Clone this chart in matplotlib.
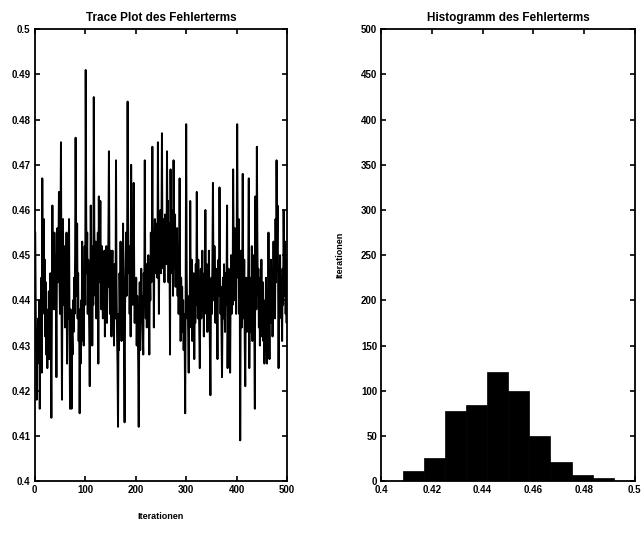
import numpy as np, matplotlib
matplotlib.use("Agg")
import matplotlib.pyplot as plt

plt.rcParams['font.family'] = ['Liberation Sans', 'DejaVu Sans']

# trace of the error term, in units of 1/1000
trace_milli = [
    455, 438, 430, 418, 433, 426, 436, 429, 440, 416, 434, 428, 445, 424, 467, 440, 452, 458, 437, 449,
    432, 444, 428, 438, 425, 436, 430, 442, 427, 435, 446, 431, 414, 440, 461, 443, 452, 438, 455, 447,
    450, 441, 423, 449, 456, 444, 451, 464, 446, 437, 453, 475, 441, 418, 447, 458, 439, 452, 445, 434,
    448, 440, 455, 426, 443, 436, 449, 458, 432, 416, 438, 430, 416, 432, 428, 440, 433, 445, 437, 450,
    476, 455, 441, 457, 436, 446, 431, 438, 415, 433, 426, 440, 431, 453, 437, 446, 430, 443, 452, 439,
    491, 458, 446, 455, 437, 449, 442, 433, 421, 440, 461, 445, 452, 430, 447, 439, 485, 456, 449, 441,
    453, 436, 448, 442, 455, 426, 463, 444, 450, 462, 447, 438, 452, 445, 436, 449, 443, 451, 432, 446,
    440, 452, 435, 447, 443, 455, 473, 449, 437, 451, 444, 432, 446, 451, 439, 445, 430, 448, 442, 436,
    471, 444, 433, 426, 412, 437, 429, 446, 438, 453, 440, 431, 448, 436, 457, 442, 428, 413, 439, 447,
    455, 441, 450, 484, 458, 446, 452, 437, 449, 432, 470, 444, 456, 439, 451, 466, 447, 435, 443, 438,
    445, 430, 441, 436, 426, 412, 433, 444, 429, 437, 447, 435, 441, 433, 428, 446, 439, 471, 443, 436,
    448, 434, 442, 437, 450, 439, 428, 446, 440, 455, 444, 451, 474, 447, 455, 434, 452, 458, 446, 453,
    449, 457, 445, 475, 453, 437, 455, 449, 460, 446, 454, 477, 451, 458, 447, 452, 444, 459, 450, 456,
    448, 473, 455, 462, 444, 457, 450, 428, 469, 452, 460, 446, 456, 441, 471, 453, 447, 459, 443, 455,
    449, 456, 441, 452, 437, 447, 467, 444, 431, 445, 438, 443, 433, 440, 429, 437, 432, 415, 442, 479,
    446, 436, 441, 432, 424, 439, 434, 462, 444, 437, 449, 431, 443, 438, 446, 427, 440, 435, 448, 439,
    464, 445, 436, 449, 440, 433, 425, 441, 447, 436, 443, 451, 438, 445, 432, 446, 441, 460, 444, 437,
    448, 433, 442, 436, 451, 440, 430, 419, 439, 445, 437, 449, 466, 446, 440, 452, 443, 435, 447, 441,
    438, 427, 444, 449, 441, 465, 446, 437, 443, 432, 423, 439, 445, 436, 448, 441, 433, 446, 439, 444,
    461, 425, 440, 447, 436, 443, 424, 441, 450, 437, 446, 439, 469, 452, 444, 456, 440, 449, 437, 451,
    479, 454, 445, 458, 437, 448, 409, 440, 451, 434, 446, 468, 443, 436, 449, 430, 421, 438, 445, 433,
    442, 436, 448, 467, 425, 440, 433, 445, 437, 452, 431, 444, 439, 450, 434, 416, 463, 447, 438, 474,
    453, 441, 447, 434, 445, 430, 440, 436, 449, 432, 438, 444, 431, 440, 426, 437, 433, 445, 436, 426,
    441, 434, 455, 438, 427, 443, 435, 449, 437, 446, 432, 441, 453, 439, 447, 436, 458, 444, 471, 452,
    461, 446, 425, 442, 436, 450, 438, 445, 440, 431, 447, 439, 460, 448, 441, 453, 437, 446, 435, 449,
]

# histogram: 10 bins between the sample min and max
hist_counts = [11, 25, 78, 84, 121, 100, 50, 21, 7, 3]
hist_lo, hist_hi = 0.4084, 0.4918

y_ticks_trace = [0.4, 0.41, 0.42, 0.43, 0.44, 0.45, 0.46, 0.47, 0.48, 0.49, 0.5]
y_labels_trace = ['0.4', '0.41', '0.42', '0.43', '0.44', '0.45', '0.46', '0.47', '0.48', '0.49', '0.5']
x_ticks_hist = [0.4, 0.42, 0.44, 0.46, 0.48, 0.5]
x_labels_hist = ['0.4', '0.42', '0.44', '0.46', '0.48', '0.5']

trace = np.array(trace_milli) / 1000.0
iters = np.arange(1, len(trace) + 1)

fig = plt.figure(figsize=(6.44, 5.42), dpi=100)
ax1 = fig.add_axes([0.0539, 0.1125, 0.392, 0.8334])
ax2 = fig.add_axes([0.592, 0.1125, 0.3935, 0.8334])

ax1.plot(iters, trace, color='k', lw=1.4)
ax1.set_xlim(0, 500)
ax1.set_ylim(0.4, 0.5)
ax1.set_xticks([0, 100, 200, 300, 400, 500])
ax1.set_yticks(y_ticks_trace)
ax1.set_yticklabels(y_labels_trace)
ax1.set_xlabel('Iterationen', fontsize=6.5, fontweight='bold', labelpad=12)
ax1.set_title('Trace Plot des Fehlerterms', fontsize=8.5, fontweight='bold', pad=6)

edges = np.linspace(hist_lo, hist_hi, len(hist_counts) + 1)
ax2.bar(edges[:-1], hist_counts, width=np.diff(edges), align='edge',
        color='k', edgecolor='k', lw=0.5)
ax2.set_xlim(0.4, 0.5)
ax2.set_ylim(0, 500)
ax2.set_xticks(x_ticks_hist)
ax2.set_xticklabels(x_labels_hist)
ax2.set_yticks(range(0, 501, 50))
ax2.set_ylabel('Iterationen', fontsize=6.5, fontweight='bold', labelpad=12)
ax2.set_title('Histogramm des Fehlerterms', fontsize=8.5, fontweight='bold', pad=6)

for ax in (ax1, ax2):
    ax.tick_params(direction='in', top=True, right=True, length=3.5, width=1.2,
                   labelsize=7, pad=3)
    for lab in ax.get_xticklabels() + ax.get_yticklabels():
        lab.set_fontweight('bold')
    for sp in ax.spines.values():
        sp.set_linewidth(1.3)

fig.savefig('out.png', dpi=100)
print('saved out.png')
